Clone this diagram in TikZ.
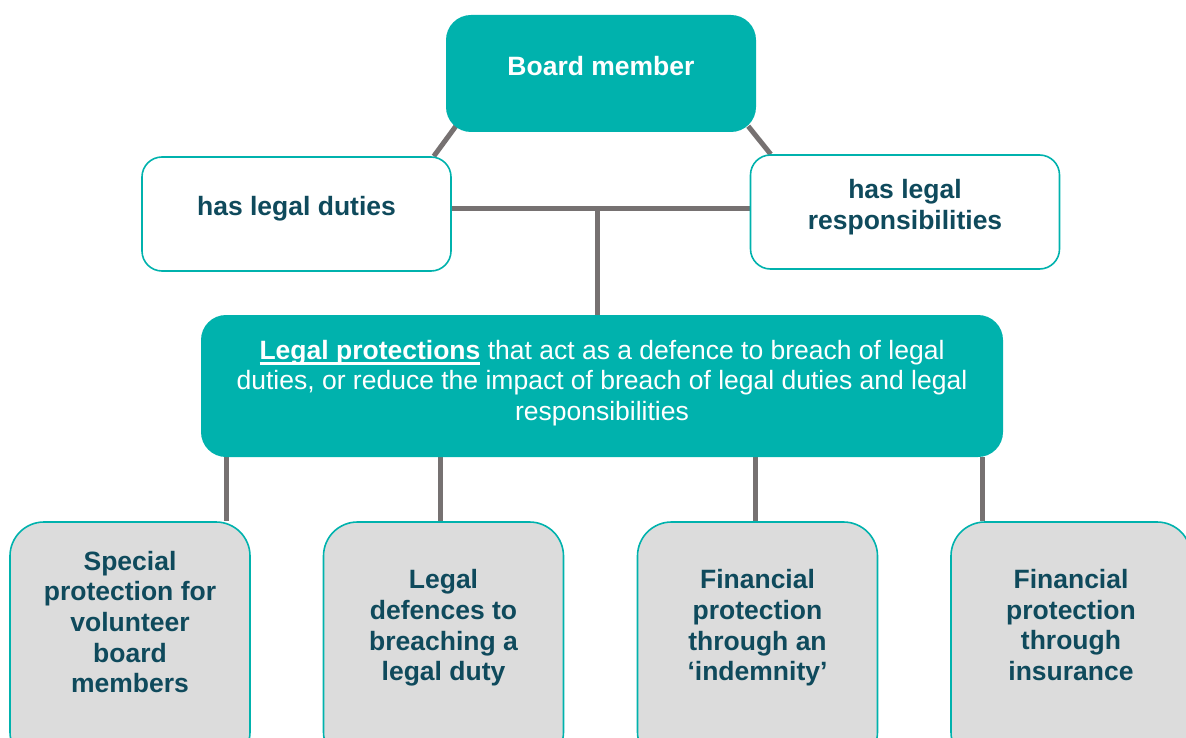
\documentclass[tikz,border=0pt]{standalone}
\usepackage{fontspec}
\setmainfont{Liberation Sans}
\usetikzlibrary{backgrounds}
\definecolor{tealmain}{HTML}{00B2AD}
\definecolor{ink}{HTML}{0F4A5C}
\definecolor{greyfill}{HTML}{DCDCDC}
\definecolor{conn}{HTML}{767171}
\newcommand\thickul[1]{\setbox0\hbox{#1}\rlap{\rule[-5.5pt]{\wd0}{2.4pt}}\box0\relax}
\tikzset{
  tealbox/.style={fill=tealmain, draw=none, rounded corners=25pt, inner sep=0pt},
  whitebox/.style={fill=white, draw=tealmain, line width=1.6pt, rounded corners=20pt, inner sep=0pt,
    minimum width=309pt, minimum height=114pt},
  greybox/.style={fill=greyfill, draw=tealmain, line width=1.6pt, rounded corners=34pt, inner sep=0pt,
    minimum width=240pt, minimum height=244pt},
  label/.style={align=center, inner sep=0pt, font=\fontsize{26.5}{30.7}\selectfont},
  boldlabel/.style={label, font=\fontsize{26.5}{30.7}\selectfont\bfseries},
  link/.style={draw=conn, line width=5pt},
}
\begin{document}
\begin{tikzpicture}[x=1pt, y=-1pt]
\useasboundingbox (0,0) rectangle (1186,738);
% boxes
\node[tealbox, minimum width=310pt, minimum height=117pt] (board) at (601,73.5) {};
\node[whitebox] (duties) at (296.5,214) {};
\node[whitebox] (resp) at (905,212) {};
\node[tealbox, minimum width=802pt, minimum height=142pt] (prot) at (602,386) {};
\node[greybox] (b1) at (130,644) {};
\node[greybox] (b2) at (443.5,644) {};
\node[greybox] (b3) at (757.5,644) {};
\node[greybox] (b4) at (1071,644) {};
% texts
\node[boldlabel, text=white] (tboard) at (601,66) {Board member};
\node[boldlabel, text=ink] (tduties) at (296.5,209) {has legal duties};
\node[boldlabel, text=ink] (tresp) at (905,207) {has legal\\responsibilities};
\node[label, text=white] (tprot) at (602,383) {\thickul{\textbf{Legal protections}} that act as a defence to breach of legal\\duties, or reduce the impact of breach of legal duties and legal\\responsibilities};
\node[boldlabel, text=ink] (t1) at (130,622) {Special\\protection for\\volunteer\\board\\members};
\node[boldlabel, text=ink] (t2) at (443.5,628) {Legal\\defences to\\breaching a\\legal duty};
\node[boldlabel, text=ink] (t3) at (757.5,628) {Financial\\protection\\through an\\‘indemnity’};
\node[boldlabel, text=ink] (t4) at (1071,625) {Financial\\protection\\through\\insurance};
% connectors
\coordinate (hub) at (597,209);
\coordinate (c1) at (226,490);
\coordinate (c2) at (440,490);
\coordinate (c3) at (755,490);
\coordinate (c4) at (982,490);
\begin{scope}[on background layer]
\draw[link] ([shift={(10,-6)}]board.south west) -- ([shift={(-18,0)}]duties.north east);
\draw[link] ([shift={(-8,-6)}]board.south east) -- ([shift={(21,0)}]resp.north west);
\draw[link] (duties.east |- hub) -- (resp.west |- hub);
\draw[link] (hub) -- (prot.north -| hub);
\draw[link] (prot.south -| c1) -- (b1.north -| c1);
\draw[link] (prot.south -| c2) -- (b2.north -| c2);
\draw[link] (prot.south -| c3) -- (b3.north -| c3);
\draw[link] (prot.south -| c4) -- (b4.north -| c4);
\end{scope}
\end{tikzpicture}
\end{document}
